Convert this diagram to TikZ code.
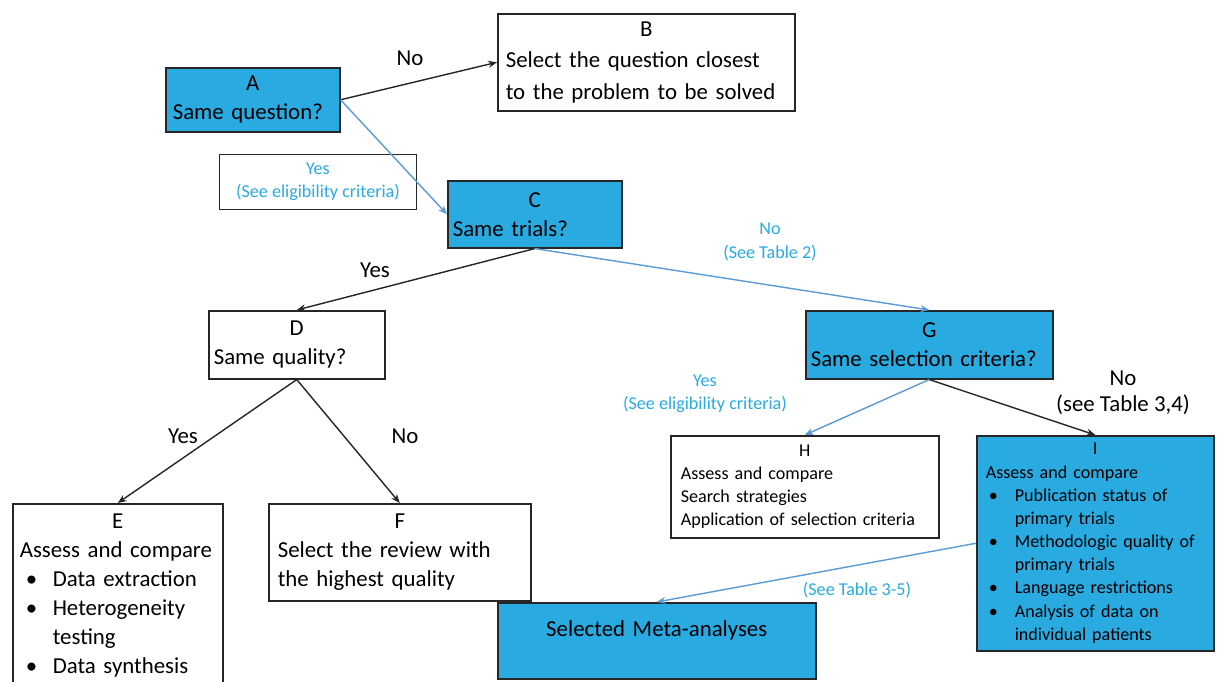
\documentclass[tikz,border=0pt]{standalone}
\usepackage{fontspec}
\setmainfont{Carlito}
\usepackage{tikz}
\usetikzlibrary{arrows.meta}
\definecolor{boxblue}{RGB}{41,171,226}
\definecolor{lineblue}{RGB}{91,155,213}
\definecolor{textblue}{RGB}{40,170,228}
\newcommand{\lettr}[1]{\null\hfill #1\hfill\null}
\newcommand{\bigfont}{\fontsize{13}{16.5}\selectfont}
\newcommand{\smallfont}{\fontsize{10.3}{13.2}\selectfont}
\hyphenpenalty=10000

\begin{document}
\begin{tikzpicture}[x=0.02cm,y=-0.02cm,
    >={Stealth[length=5pt,width=4pt]},
    box/.style={draw=black!85, line width=0.9pt, anchor=north west, inner xsep=0.1cm, inner ysep=0pt, align=left, font=\bigfont},
    bluebox/.style={box, fill=boxblue},
    lbl/.style={inner sep=0pt, align=center, font=\bigfont},
    bluelbl/.style={lbl, text=textblue, font=\smallfont},
    arr/.style={->, line width=0.8pt, black!85},
    barr/.style={->, line width=0.8pt, lineblue}]
    \useasboundingbox[fill=white] (0,0) rectangle (1218,682);

    %Boxes
    \node[bluebox, inner xsep=0.14cm, text width=3.2cm, minimum height=1.28cm] (A) at (165,67) {\lettr{A}\\Same~question?};
    \node[box, inner xsep=0.16cm, text width=5.62cm, minimum height=1.94cm, font=\fontsize{13}{18}\selectfont] (B) at (497,13) {\lettr{B}\\Select~the~question~closest\\to~the~problem~to~be~solved};
    \node[bluebox, text width=3.28cm, minimum height=1.34cm] (C) at (447,180) {\lettr{C}\\Same trials?};
    \node[box, text width=3.32cm, minimum height=1.36cm] (D) at (208,310) {\lettr{D}\\Same quality?};
    \node[bluebox, text width=4.74cm, minimum height=1.36cm] (G) at (805,310) {\lettr{G}\\Same~selection~criteria?};
    \node[box, inner xsep=0.2cm, text width=4.96cm, minimum height=2.04cm, font=\smallfont] (H) at (670,435) {\lettr{H}\\Assess and compare\\Search strategies\\Application~of~selection~criteria};
    \node[bluebox, inner xsep=0.18cm, text width=4.38cm, minimum height=4.3cm, font=\smallfont] (I) at (976,435) {\lettr{I}\\Assess and compare\\
        \makebox[0.58cm][l]{\hspace{0.06cm}\textbullet}Publication status of\\\hspace*{0.58cm}primary trials\\
        \makebox[0.58cm][l]{\hspace{0.06cm}\textbullet}Methodologic~quality~of\\\hspace*{0.58cm}primary trials\\
        \makebox[0.58cm][l]{\hspace{0.06cm}\textbullet}Language restrictions\\
        \makebox[0.58cm][l]{\hspace{0.06cm}\textbullet}Analysis of data on\\\hspace*{0.58cm}individual patients};
    \node[box, inner xsep=0.14cm, text width=3.92cm, minimum height=3.68cm] (E) at (12,503) {\lettr{E}\\Assess~and~compare\\
        \makebox[0.66cm][l]{\hspace{0.12cm}\textbullet}Data extraction\\
        \makebox[0.66cm][l]{\hspace{0.12cm}\textbullet}Heterogeneity\\\hspace*{0.66cm}testing\\
        \makebox[0.66cm][l]{\hspace{0.12cm}\textbullet}Data synthesis};
    \node[box, inner xsep=0.18cm, text width=4.88cm, minimum height=1.94cm] (F) at (268,503) {\lettr{F}\\Select~the~review~with\\the highest quality};
    \node[bluebox, text width=6.16cm, align=center, text height=0.68cm, text depth=0.84cm] (M) at (497,602) {Selected Meta-analyses};

    %Labels
    \node[bluelbl, draw=black!85, line width=0.9pt, minimum width=3.94cm, minimum height=1.1cm] (yesA) at (318,182) {Yes\\(See eligibility criteria)};
    \node[lbl] (noA) at (410,58) {No};
    \node[lbl] (yesC) at (375,270) {Yes};
    \node[bluelbl] (noC) at (770,242) {No\\(See Table 2)};
    \node[lbl] (yesD) at (183,436) {Yes};
    \node[lbl] (noD) at (405,436) {No};
    \node[bluelbl] (yesG) at (705,394) {Yes\\(See eligibility criteria)};
    \node[lbl, font=\fontsize{13}{15}\selectfont] (noG) at (1123,393) {No\\(see Table 3,4)};
    \node[bluelbl] (seeI) at (857,590) {(See Table 3-5)};

    %Arrows
    \draw[arr] (A.east) -- (B.west);
    \draw[barr] (A.east) -- (C.west);
    \draw[arr] (C.south) -- (D.north);
    \draw[barr] (C.south) -- (G.north);
    \draw[arr] (D.south) -- (E.north);
    \draw[arr] (D.south) -- (F.north);
    \draw[barr] (G.south) -- (H.north);
    \draw[arr] (G.south) -- (I.north);
    \draw[barr] (I.west) -- (M.north);
\end{tikzpicture}
\end{document}
